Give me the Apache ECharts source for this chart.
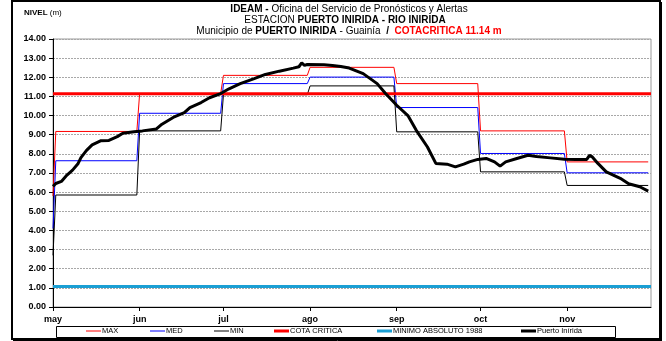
<!DOCTYPE html>
<html>
<head>
<meta charset="utf-8">
<script src="https://cdn.jsdelivr.net/npm/echarts@6/dist/echarts.min.js"></script>
<style>
  html, body { margin: 0; padding: 0; background: #fff; }
  #chart { width: 666px; height: 341px; }
</style>
</head>
<body>
<div id="chart"></div>
<script>
// Month labels and the day offset (from 1 May) at which each month starts
const monthNames = ['may', 'jun', 'jul', 'ago', 'sep', 'oct', 'nov'];
const monthStarts = [0, 31, 61, 92, 123, 153, 184];
const lastDay = 214; // 1 December

// Historical monthly water levels (m): one value per month, may..nov
const maxMonthly = [9.17, 11.15, 12.10, 12.52, 11.67, 9.20, 7.58];
const medMonthly = [7.64, 10.12, 11.67, 12.01, 10.42, 8.02, 7.01];
const minMonthly = [5.85, 9.20, 11.09, 11.55, 9.15, 7.06, 6.35];
// First-day readings of each historical curve (1 May)
const firstDayMax = 5.8;
const firstDayMed = 4.1;
const firstDayMin = 2.7;

// Reference levels (m)
const cotaCritica = 11.14;
const minimoAbsoluto1988 = 1.07;

// Observed level at Puerto Inírida: day offset from 1 May and level (m)
const obsDays = [0, 1, 3, 5, 7, 9, 10, 12, 14, 17, 20, 23, 25, 29, 32, 37, 39, 43, 47, 49,
  53, 56, 60, 63, 67, 72, 76, 81, 86, 88, 89, 90, 91, 97, 100, 103, 106, 111, 116, 119,
  123, 127, 130, 134, 137, 141, 144, 147, 149, 152, 155, 158, 160, 162, 166, 170, 173, 178, 183, 187,
  191, 192, 193, 195, 198, 203, 206, 210, 213];
const obsLevels = [6.30, 6.45, 6.56, 6.89, 7.15, 7.50, 7.80, 8.18, 8.47, 8.68, 8.70, 8.90, 9.08, 9.15, 9.20, 9.30, 9.55, 9.90, 10.15, 10.42,
  10.68, 10.93, 11.15, 11.40, 11.67, 11.93, 12.15, 12.32, 12.48, 12.55, 12.75, 12.62, 12.67, 12.65, 12.62, 12.56, 12.48, 12.19, 11.67, 11.15,
  10.54, 10.00, 9.23, 8.36, 7.50, 7.46, 7.32, 7.46, 7.58, 7.71, 7.76, 7.58, 7.36, 7.58, 7.76, 7.93, 7.86, 7.79, 7.72, 7.71,
  7.71, 7.92, 7.84, 7.50, 7.06, 6.72, 6.44, 6.28, 6.05];

// Daily step curve: first-day value, then each month's value held from its first to its last day
function stepCurve(firstDay, monthly) {
  const pts = [[0, firstDay]];
  monthly.forEach((v, i) => {
    const start = i === 0 ? 1 : monthStarts[i];
    const end = (i + 1 < monthStarts.length ? monthStarts[i + 1] : lastDay) - 1;
    pts.push([start, v], [end, v]);
  });
  return pts;
}

const obsData = obsDays.map((d, i) => [d, obsLevels[i]]);

const FONT = 'Liberation Sans, Arial, sans-serif';

const seriesDefs = [
  { name: 'MAX', color: '#ff0000', width: 1, data: stepCurve(firstDayMax, maxMonthly) },
  { name: 'MED', color: '#0000ff', width: 1, data: stepCurve(firstDayMed, medMonthly) },
  { name: 'MIN', color: '#000000', width: 1, data: stepCurve(firstDayMin, minMonthly) },
  { name: 'COTA CRITICA', color: '#ff0000', width: 3, data: [[0, cotaCritica], [lastDay, cotaCritica]] },
  { name: 'MINIMO ABSOLUTO 1988', color: '#1a9fd4', width: 3, data: [[0, minimoAbsoluto1988], [lastDay, minimoAbsoluto1988]] },
  { name: 'Puerto Inírida', color: '#000000', width: 3, data: obsData }
];

// Legend entries and their left positions inside the legend box
const legendLeft = [86, 150, 214, 274, 377, 521];

// Rich-text styles for the header lines
const richText = size => ({
  b: { fontFamily: FONT, fontSize: size, fontWeight: 'bold', color: '#000' },
  n: { fontFamily: FONT, fontSize: size, fontWeight: 'normal', color: '#000' },
  r: { fontFamily: FONT, fontSize: size, fontWeight: 'bold', color: '#ff0000' }
});

const chart = echarts.init(document.getElementById('chart'), null, { renderer: 'canvas' });

chart.setOption({
  animation: false,
  backgroundColor: '#ffffff',
  title: [
    {
      left: 349, top: 4, textAlign: 'center', padding: 0,
      text: '{b|IDEAM - }{n|Oficina del Servicio de Pronósticos y Alertas}',
      textStyle: { fontWeight: 'normal', fontSize: 10, rich: richText(10) }
    },
    {
      left: 345, top: 15, textAlign: 'center', padding: 0,
      text: '{n|ESTACION }{b|PUERTO INIRIDA - RIO INIRIDA}',
      textStyle: { fontWeight: 'normal', fontSize: 10, rich: richText(10) }
    },
    {
      left: 349, top: 26, textAlign: 'center', padding: 0,
      text: '{n|Municipio de }{b|PUERTO INIRIDA}{n| - Guainía  }{b|/  }{r|COTACRITICA 11.14 m}',
      textStyle: { fontWeight: 'normal', fontSize: 10, rich: richText(10) }
    },
    {
      left: 24, top: 9, padding: 0,
      text: '{b|NIVEL }{n|(m)}',
      textStyle: { fontWeight: 'normal', fontSize: 8, rich: richText(8) }
    }
  ],
  grid: {
    left: 53, right: 15, top: 39, bottom: 34,
    show: true, borderColor: '#9a9a9a', borderWidth: 1, backgroundColor: '#fff'
  },
  xAxis: {
    type: 'value',
    min: 0,
    max: lastDay,
    axisLine: { show: true, onZero: false, lineStyle: { color: '#000', width: 1 } },
    axisTick: { show: true, length: 4, customValues: monthStarts, lineStyle: { color: '#000' } },
    axisLabel: {
      customValues: monthStarts,
      margin: 8,
      fontFamily: FONT, fontSize: 9, fontWeight: 'bold', color: '#000',
      formatter: v => monthNames[monthStarts.indexOf(v)] || ''
    },
    splitLine: { show: false }
  },
  yAxis: {
    type: 'value',
    min: 0,
    max: 14,
    interval: 1,
    axisLine: { show: true, lineStyle: { color: '#000', width: 1 } },
    axisTick: { show: true, length: 4, lineStyle: { color: '#000' } },
    axisLabel: {
      margin: 7,
      fontFamily: FONT, fontSize: 9, fontWeight: 'bold', color: '#000',
      formatter: v => v.toFixed(2)
    },
    splitLine: { show: true, lineStyle: { color: '#a8a8a8', width: 1, type: [2, 1] } }
  },
  legend: seriesDefs.map((s, i) => ({
    data: [s.name],
    left: legendLeft[i],
    top: 327,
    padding: 0,
    itemGap: 0,
    itemWidth: 15,
    itemHeight: s.width >= 3 ? 3 : 1,
    icon: 'rect',
    selectedMode: false,
    textStyle: { fontFamily: FONT, fontSize: 7.5, color: '#000', padding: [0, 0, 0, -4] }
  })),
  graphic: [
    { type: 'rect', z: 0, shape: { x: 56.5, y: 326.5, width: 559, height: 11 },
      style: { fill: '#fff', stroke: '#000', lineWidth: 1 } },
    { type: 'rect', z: 0, shape: { x: 12, y: 1, width: 648, height: 338 },
      style: { fill: 'none', stroke: '#000', lineWidth: 2 } },
    { type: 'line', z: 0, shape: { x1: 661.5, y1: 2, x2: 661.5, y2: 341 },
      style: { stroke: '#000', lineWidth: 1 } },
    { type: 'line', z: 0, shape: { x1: 13, y1: 340.5, x2: 662, y2: 340.5 },
      style: { stroke: '#000', lineWidth: 1 } }
  ],
  series: seriesDefs.map(s => ({
    name: s.name,
    type: 'line',
    data: s.data,
    color: s.color,
    showSymbol: false,
    symbol: 'none',
    smooth: false,
    lineStyle: { color: s.color, width: s.width },
    emphasis: { disabled: true },
    silent: true
  }))
});
</script>
</body>
</html>
